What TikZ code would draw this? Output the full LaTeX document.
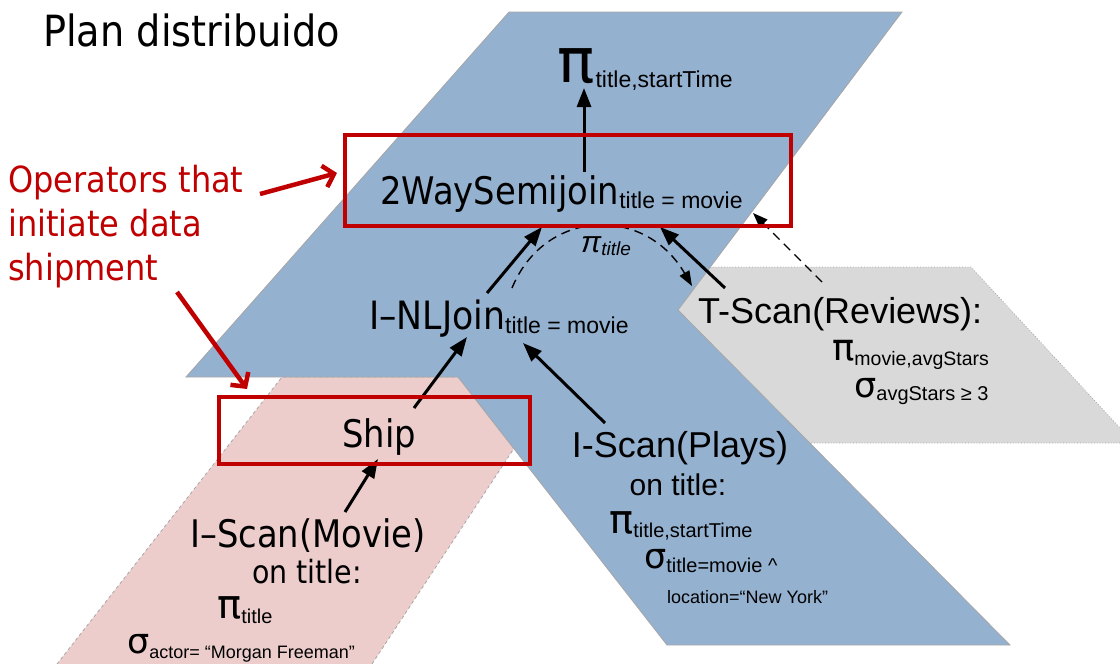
\documentclass[tikz,border=0pt]{standalone}
\usepackage{fontspec}
\setmainfont{Liberation Sans}
\newfontfamily\tah[FakeStretch=0.89]{DejaVu Sans}
\newfontfamily\djv{DejaVu Sans}
\newfontfamily\ari{Liberation Sans}
\usetikzlibrary{arrows.meta}
\definecolor{planblue}{RGB}{149,177,208}
\definecolor{planpink}{RGB}{236,205,204}
\definecolor{plangrey}{RGB}{217,217,217}
\definecolor{edgegrey}{RGB}{166,166,166}
\definecolor{hlred}{RGB}{192,0,0}
\newcommand{\fsz}[1]{\fontsize{#1}{#1}\selectfont}
\begin{document}
\begin{tikzpicture}[x=1pt,y=-1pt,
 lbl/.style={inner sep=0pt, anchor=base west},
 clbl/.style={inner sep=0pt, anchor=base},
 opbox/.style={draw=hlred, line width=3.5pt},
 flow/.style={line width=3pt, -{Triangle[length=19pt,width=14pt]}},
 dflow/.style={line width=1.4pt, dash pattern=on 9pt off 6pt, -{Triangle[length=15pt,width=11pt]}},
 callout/.style={draw=hlred, line width=4.5pt, -{Straight Barb[length=10pt,width=22pt]}},
]
\useasboundingbox (0,0) rectangle (1120,664);
% regions
\fill[plangrey] (710,267) -- (971,267) -- (1120,428) -- (1120,443) -- (810,443) -- (678,310) -- cycle;
\draw[edgegrey, line width=0.8pt, dotted] (710,267) -- (971,267) -- (1120,428) (1120,443) -- (810,443);
\fill[planpink] (282,377) -- (561,377) -- (372,664) -- (57,664) -- cycle;
\draw[edgegrey, line width=0.8pt, dashed] (57,664) -- (282,377) -- (561,377) -- (372,664);
\filldraw[fill=planblue, draw=edgegrey, line width=0.8pt] (509,12) -- (902,12) -- (678,310) -- (1010,645) -- (667,645) -- (458,377) -- (186,377) -- cycle;
% texts
\node[lbl] (title) at (43,46) {\tah\fsz{43}Plan distribuido};
\node[lbl, align=left, text=hlred, font={\tah\fontsize{36}{44}\selectfont}] (note) at (8,280) {Operators that\\initiate data\\shipment};
\node[lbl] (proj) at (557,82) {\djv\fsz{62}π\hspace{1pt}\raisebox{-5pt}{\ari\fsz{23}title,startTime}};
\node[lbl] (sjoin) at (380,204) {\tah\fsz{38}2WaySemijoin\raisebox{-4pt}{\ari\fsz{23}title = movie}};
\node[lbl] (nljoin) at (369,329) {\tah\fsz{39}I–NLJoin\raisebox{-4pt}{\ari\fsz{23}title = movie}};
\node[lbl] (ship) at (342,447) {\tah\fsz{38}Ship};
\node[clbl] (mscan) at (308,547) {\tah\fsz{38}I–Scan(Movie)};
\node[clbl] (mon) at (307,583) {\tah\fsz{32}on title:};
\node[lbl] (mproj) at (217,618) {\djv\fsz{40}π\raisebox{-5pt}{\ari\fsz{20}title}};
\node[lbl] (msel) at (127,653) {\djv\fsz{35}σ\raisebox{-5pt}{\ari\fsz{18}actor= “Morgan Freeman”}};
\node[clbl] (pscan) at (680,457) {\ari\fsz{36}I-Scan(Plays)};
\node[clbl] (pon) at (678,495) {\ari\fsz{30}on title:};
\node[lbl] (pproj) at (609,533) {\djv\fsz{40}π\raisebox{-4pt}{\ari\fsz{20}title,startTime}};
\node[lbl] (psel) at (644,568) {\djv\fsz{35}σ\raisebox{-4pt}{\ari\fsz{20}title=movie \textasciicircum}};
\node[lbl] (ploc) at (667,603) {\ari\fsz{18}location=“New York”};
\node[lbl] (tscan) at (698,323) {\ari\fsz{36}T-Scan(Reviews):};
\node[lbl] (tproj) at (832,360) {\djv\fsz{37}π\raisebox{-5pt}{\ari\fsz{19.5}movie,avgStars}};
\node[lbl] (tsel) at (854,397) {\djv\fsz{35}σ\raisebox{-3pt}{\ari\fsz{20}avgStars ≥ 3}};
\node[lbl] (pit) at (581,252) {\ari\itshape\fsz{30}π\raisebox{-3pt}{\fsz{19}title}};
% connector ends
\coordinate (a1s) at (584,172); \coordinate (a1e) at (584,88);
\coordinate (a2s) at (487,293); \coordinate (a2e) at (542,227);
\coordinate (a3s) at (725,288); \coordinate (a3e) at (660,227);
\coordinate (a4s) at (414,408); \coordinate (a4e) at (467,337);
\coordinate (a5s) at (345,512); \coordinate (a5e) at (378,459);
\coordinate (a6s) at (605,423); \coordinate (a6e) at (523,343);
\coordinate (d1s) at (512,288); \coordinate (d1e) at (692,286);
\coordinate (d2s) at (822,282); \coordinate (d2e) at (753,213);
\coordinate (r1s) at (260,194); \coordinate (r1e) at (337,173);
\coordinate (r2s) at (177,292); \coordinate (r2e) at (247,389);
% arrows
\draw[flow] (a1s) -- (a1e);
\draw[flow] (a2s) -- (a2e);
\draw[flow] (a3s) -- (a3e);
\draw[flow] (a4s) -- (a4e);
\draw[flow] (a5s) -- (a5e);
\draw[flow] (a6s) -- (a6e);
\draw[dflow] (d1s) .. controls (545,208) and (645,205) .. (d1e);
\draw[dflow] (d2s) -- (d2e);
% operator highlight boxes
\draw[opbox] (345,135) rectangle (791,226);
\draw[opbox] (219,397) rectangle (530,464);
\draw[callout] (r1s) -- (r1e);
\draw[callout] (r2s) -- (r2e);
\end{tikzpicture}
\end{document}
